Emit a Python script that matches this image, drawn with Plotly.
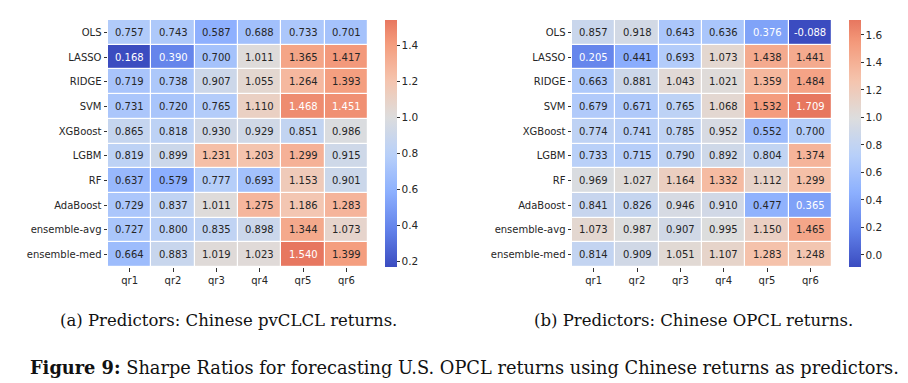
import plotly.graph_objects as go

models = ["OLS", "LASSO", "RIDGE", "SVM", "XGBoost", "LGBM", "RF", "AdaBoost",
          "ensemble-avg", "ensemble-med"]
quantiles = ["qr1", "qr2", "qr3", "qr4", "qr5", "qr6"]

sharpe_pvclcl = [
    [0.757, 0.743, 0.587, 0.688, 0.733, 0.701],
    [0.168, 0.390, 0.700, 1.011, 1.365, 1.417],
    [0.719, 0.738, 0.907, 1.055, 1.264, 1.393],
    [0.731, 0.720, 0.765, 1.110, 1.468, 1.451],
    [0.865, 0.818, 0.930, 0.929, 0.851, 0.986],
    [0.819, 0.899, 1.231, 1.203, 1.299, 0.915],
    [0.637, 0.579, 0.777, 0.693, 1.153, 0.901],
    [0.729, 0.837, 1.011, 1.275, 1.186, 1.283],
    [0.727, 0.800, 0.835, 0.898, 1.344, 1.073],
    [0.664, 0.883, 1.019, 1.023, 1.540, 1.399],
]
sharpe_opcl = [
    [0.857, 0.918, 0.643, 0.636, 0.376, -0.088],
    [0.205, 0.441, 0.693, 1.073, 1.438, 1.441],
    [0.663, 0.881, 1.043, 1.021, 1.359, 1.484],
    [0.679, 0.671, 0.765, 1.068, 1.532, 1.709],
    [0.774, 0.741, 0.785, 0.952, 0.552, 0.700],
    [0.733, 0.715, 0.790, 0.892, 0.804, 1.374],
    [0.969, 1.027, 1.164, 1.332, 1.112, 1.299],
    [0.841, 0.826, 0.946, 0.910, 0.477, 0.365],
    [1.073, 0.987, 0.907, 0.995, 1.150, 1.465],
    [0.814, 0.909, 1.051, 1.107, 1.283, 1.248],
]
center = 1.0

# coolwarm anchors
CW = [(0.0, (59, 76, 192)), (0.125, (98, 130, 234)), (0.25, (141, 176, 254)),
      (0.375, (184, 208, 249)), (0.5, (221, 221, 221)), (0.625, (245, 196, 173)),
      (0.75, (244, 154, 123)), (0.875, (222, 96, 77)), (1.0, (180, 4, 38))]


def coolwarm(t):
    t = min(max(t, 0.0), 1.0)
    for (t0, c0), (t1, c1) in zip(CW[:-1], CW[1:]):
        if t <= t1:
            f = (t - t0) / (t1 - t0)
            return tuple(c0[i] + f * (c1[i] - c0[i]) for i in range(3))
    return CW[-1][1]


def rgbstr(c):
    return "rgb(%d,%d,%d)" % tuple(round(v) for v in c)


def lum(c):
    out = []
    for v in c:
        v = v / 255.0
        out.append(v / 12.92 if v <= 0.03928 else ((v + 0.055) / 1.055) ** 2.4)
    return 0.2126 * out[0] + 0.7152 * out[1] + 0.0722 * out[2]


def build(z):
    flat = [v for row in z for v in row]
    zmin, zmax = min(flat), max(flat)
    d = max(zmax - center, center - zmin)
    tpos = lambda v: 0.5 + 0.5 * (v - center) / d
    n = 40
    scale = []
    for i in range(n + 1):
        f = i / n
        v = zmin + f * (zmax - zmin)
        scale.append([f, rgbstr(coolwarm(tpos(v)))])
    return zmin, zmax, scale, tpos


fig = go.Figure()
annotations = []
ytop, ybot = 1 - 12 / 383, 1 - 259 / 383
panels = [
    (sharpe_pvclcl, "x", "y", (100 / 908, 360 / 908), 377 / 908),
    (sharpe_opcl, "x2", "y2", (564 / 908, 824 / 908), 841 / 908),
]
for z, xa, ya, dom, cbx in panels:
    zmin, zmax, scale, tpos = build(z)
    fig.add_trace(go.Heatmap(
        z=z, x=quantiles, y=models, xaxis=xa, yaxis=ya,
        zmin=zmin, zmax=zmax, colorscale=scale, xgap=1.2, ygap=1.2,
        hoverongaps=False,
        colorbar=dict(x=cbx, xanchor="left", y=(ytop + ybot) / 2, yanchor="middle",
                      len=247, lenmode="pixels", thickness=12, thicknessmode="pixels",
                      outlinewidth=0, tick0=0, dtick=0.2, tickformat=".1f",
                      ticks="outside", ticklen=3, tickcolor="#333", xpad=0, ypad=0,
                      tickfont=dict(family="DejaVu Sans", size=10.5, color="#262626")),
    ))
    for i, m in enumerate(models):
        for j, q in enumerate(quantiles):
            v = z[i][j]
            col = coolwarm(tpos(v))
            annotations.append(dict(
                x=q, y=m, xref=xa, yref=ya, text="%.3f" % v, showarrow=False,
                font=dict(family="DejaVu Sans", size=10,
                          color="#ffffff" if lum(col) < 0.408 else "#262626")))

axis_common = dict(showgrid=False, zeroline=False, showline=False, ticks="outside",
                   ticklen=3.5, tickcolor="#333", tickwidth=1,
                   tickfont=dict(family="DejaVu Sans", size=10, color="#262626"))
fig.update_layout(
    width=908, height=383, margin=dict(l=0, r=0, t=0, b=0),
    paper_bgcolor="white", plot_bgcolor="white", showlegend=False,
    xaxis=dict(domain=panels[0][3], anchor="y", **axis_common),
    yaxis=dict(domain=[ybot, ytop], anchor="x", autorange="reversed", **axis_common),
    xaxis2=dict(domain=panels[1][3], anchor="y2", **axis_common),
    yaxis2=dict(domain=[ybot, ytop], anchor="x2", autorange="reversed", **axis_common),
)

serif = "DejaVu Serif"
annotations += [
    dict(x=220 / 908, y=1 - 312 / 383, xref="paper", yref="paper", showarrow=False,
         xanchor="center", yanchor="middle",
         text="(a) Predictors: Chinese pvCLCL returns.",
         font=dict(family=serif, size=16.5, color="#111")),
    dict(x=685 / 908, y=1 - 312 / 383, xref="paper", yref="paper", showarrow=False,
         xanchor="center", yanchor="middle",
         text="(b) Predictors: Chinese OPCL returns.",
         font=dict(family=serif, size=16.5, color="#111")),
    dict(x=456 / 908, y=1 - 359 / 383, xref="paper", yref="paper", showarrow=False,
         xanchor="center", yanchor="middle",
         text="<b>Figure 9:</b> Sharpe Ratios for forecasting U.S. OPCL returns using Chinese returns as predictors.",
         font=dict(family=serif, size=17.8, color="#111")),
]
fig.update_layout(annotations=annotations)
fig.write_html("out.html")
